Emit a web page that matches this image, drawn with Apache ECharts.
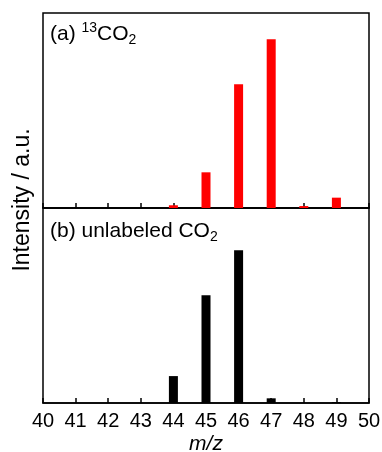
<!DOCTYPE html>
<html>
<head>
    <meta charset="utf-8">
    <title>CO2 m/z</title>
    <script src="https://cdn.jsdelivr.net/npm/echarts@6/dist/echarts.min.js"></script>
</head>
<body style="margin:0;background:#fff;">
    <div id="main" style="width:382px;height:452px;"></div>
    <script type="text/javascript">
        // m/z positions and relative intensities (% of panel height)
        var mzLabeled = [44, 45, 46, 47, 48, 49];
        var intLabeled = [1.4, 18.3, 63.4, 86.5, 1.0, 5.3];
        var mzUnlabeled = [44, 45, 46, 47, 49];
        var intUnlabeled = [13.8, 55.2, 78.3, 2.4, 0.5];
        var xTicks = [40, 50, 1];   // min, max, step

        var font = 'Liberation Sans, Arial, sans-serif';

        function pairs(xs, ys) {
            var out = [];
            for (var i = 0; i < xs.length; i++) out.push([xs[i], ys[i]]);
            return out;
        }

        function xAxis(idx, showLabel) {
            return {
                type: 'value', gridIndex: idx,
                min: xTicks[0], max: xTicks[1], interval: xTicks[2],
                axisLine: { show: true, lineStyle: { color: '#000', width: 1.5 } },
                axisTick: { show: true, inside: true, length: 5, lineStyle: { color: '#000', width: 1.5 } },
                splitLine: { show: false },
                axisLabel: { show: showLabel, color: '#000', fontSize: 20, fontFamily: font, margin: 8 },
                name: showLabel ? 'm/z' : '',
                nameLocation: 'middle', nameGap: 31,
                nameTextStyle: { color: '#000', fontSize: 21, fontStyle: 'italic', fontFamily: font }
            };
        }

        function yAxis(idx) {
            return {
                type: 'value', gridIndex: idx, min: 0, max: 100,
                axisLine: { show: false }, axisTick: { show: false },
                axisLabel: { show: false }, splitLine: { show: false }
            };
        }

        var rich = {
            n: { fontSize: 21, fontWeight: 'normal', fontFamily: font, color: '#000', lineHeight: 26 },
            sup: { fontSize: 14, fontWeight: 'normal', fontFamily: font, color: '#000', lineHeight: 14, verticalAlign: 'top' },
            sub: { fontSize: 14, fontWeight: 'normal', fontFamily: font, color: '#000', lineHeight: 14, verticalAlign: 'bottom' }
        };

        var myChart = echarts.init(document.getElementById('main'));
        var option = {
            backgroundColor: '#fff',
            animation: false,
            title: [
                { text: '{n|(a) }{sup|13}{n|CO}{sub|2}', left: 50, top: 21, padding: 0,
                  textStyle: { fontWeight: 'normal', rich: rich } },
                { text: '{n|(b) unlabeled CO}{sub|2}', left: 50, top: 218, padding: 0,
                  textStyle: { fontWeight: 'normal', rich: rich } }
            ],
            grid: [
                { left: 43, top: 13, width: 326, height: 195, show: true, borderColor: '#000', borderWidth: 1.5,
                  outerBoundsMode: 'none' },
                { left: 43, top: 208, width: 326, height: 195, show: true, borderColor: '#000', borderWidth: 1.5,
                  outerBoundsMode: 'none' }
            ],
            xAxis: [xAxis(0, false), xAxis(1, true)],
            yAxis: [yAxis(0), yAxis(1)],
            graphic: [{
                type: 'text', x: 23, y: 200, rotation: Math.PI / 2,
                style: {
                    text: 'Intensity / a.u.', fill: '#000',
                    font: '23px ' + font, textAlign: 'center', textVerticalAlign: 'middle'
                }
            }],
            series: [
                { type: 'bar', xAxisIndex: 0, yAxisIndex: 0, barWidth: 9,
                  itemStyle: { color: '#ff0000' }, data: pairs(mzLabeled, intLabeled) },
                { type: 'bar', xAxisIndex: 1, yAxisIndex: 1, barWidth: 9,
                  itemStyle: { color: '#000' }, data: pairs(mzUnlabeled, intUnlabeled) }
            ]
        };
        myChart.setOption(option);
    </script>
</body>
</html>
